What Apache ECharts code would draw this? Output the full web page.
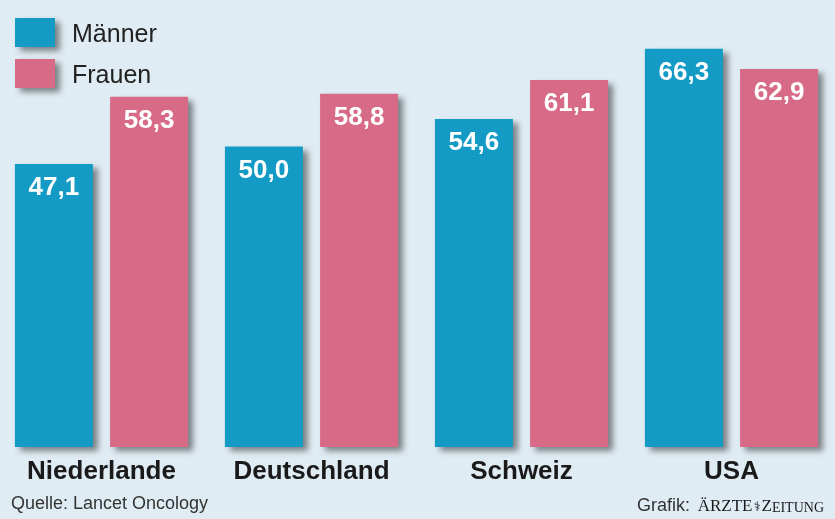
<!DOCTYPE html>
<html>
<head>
<meta charset="utf-8">
<script src="https://cdn.jsdelivr.net/npm/echarts@6/dist/echarts.min.js"></script>
<style>
html,body{margin:0;padding:0;background:#e0ecf3;overflow:hidden;width:835px;height:519px;position:relative;}
#chart{position:absolute;left:-5px;top:0;width:845px;height:519px;}
</style>
</head>
<body>
<div id="chart"></div>
<script>
const categories = ['Niederlande', 'Deutschland', 'Schweiz', 'USA'];
const maenner = [47.1, 50.0, 54.6, 66.3];
const frauen = [58.3, 58.8, 61.1, 62.9];
const seriesNames = ['Männer', 'Frauen'];
const sourceText = 'Quelle: Lancet Oncology';

const BLUE = '#139bc5';
const PINK = '#d76b87';
const SANS = '"Liberation Sans", Arial, sans-serif';
const SERIF = '"Liberation Serif", "Times New Roman", serif';
const DX = 5; // container offset

const fmt = p => p.value.toFixed(1).replace('.', ',');
const barShadow = {shadowColor:'rgba(0,0,0,0.45)', shadowBlur:6, shadowOffsetX:5, shadowOffsetY:4};

const chart = echarts.init(document.getElementById('chart'), null, {renderer:'canvas'});
chart.setOption({
  backgroundColor: '#e0ecf3',
  animation: false,
  legend: {
    orient: 'vertical', left: 15, top: 13,
    itemWidth: 40, itemHeight: 29, itemGap: 11,
    icon: 'rect',
    data: seriesNames,
    formatter: '{t|{name}}',
    textStyle: {fontFamily: SANS, fontSize: 25, color: '#222', padding: [0,0,0,12],
      rich: {t: {fontFamily: SANS, fontSize: 25, color: '#222', padding: [6,0,0,0]}}},
    itemStyle: barShadow
  },
  grid: {left: 1.5, width: 840, top: 26.4, bottom: 72, containLabel: false},
  xAxis: {
    type: 'category', data: categories,
    axisLine: {show: false}, axisTick: {show: false},
    axisLabel: {fontFamily: SANS, fontWeight: 'bold', fontSize: 26, color: '#1a1a1a', margin: 12, lineHeight: 26, verticalAlign: 'top'}
  },
  yAxis: {type: 'value', min: 0, max: 70, show: false, splitLine: {show: false}},
  series: [
    {
      name: seriesNames[0], type: 'bar', data: maenner, barWidth: 78, barGap: '22%',
      itemStyle: Object.assign({color: BLUE}, barShadow),
      label: {show: true, position: 'insideTop', distance: 11, formatter: fmt, color: '#fff', fontFamily: SANS, fontWeight: 'bold', fontSize: 26, lineHeight: 26}
    },
    {
      name: seriesNames[1], type: 'bar', data: frauen, barWidth: 78, barGap: '22%',
      itemStyle: Object.assign({color: PINK}, barShadow),
      label: {show: true, position: 'insideTop', distance: 11, formatter: fmt, color: '#fff', fontFamily: SANS, fontWeight: 'bold', fontSize: 26, lineHeight: 26}
    }
  ],
  graphic: [
    {type: 'text', left: 11 + DX, top: 495, style: {text: sourceText, font: '18px ' + SANS, fill: '#333'}},
    {type: 'text', x: 690 + DX, y: 506, style: {text: 'Grafik:', font: '18px ' + SANS, fill: '#333', align: 'right', verticalAlign: 'middle'}},
    {type: 'text', x: 824 + DX, y: 507, style: {
      text: '{a|ÄRZTE}{s|⚕}{a|Z}{b|EITUNG}',
      align: 'right', verticalAlign: 'middle',
      rich: {
        a: {font: '17px ' + SERIF, fill: '#1a1a1a', verticalAlign: 'bottom'},
        b: {font: '14px ' + SERIF, fill: '#1a1a1a', verticalAlign: 'bottom'},
        s: {font: '13px "DejaVu Sans"', fill: '#1a1a1a', verticalAlign: 'bottom', padding: [0, 1, 1, 1]}
      }
    }}
  ]
});
</script>
</body>
</html>
